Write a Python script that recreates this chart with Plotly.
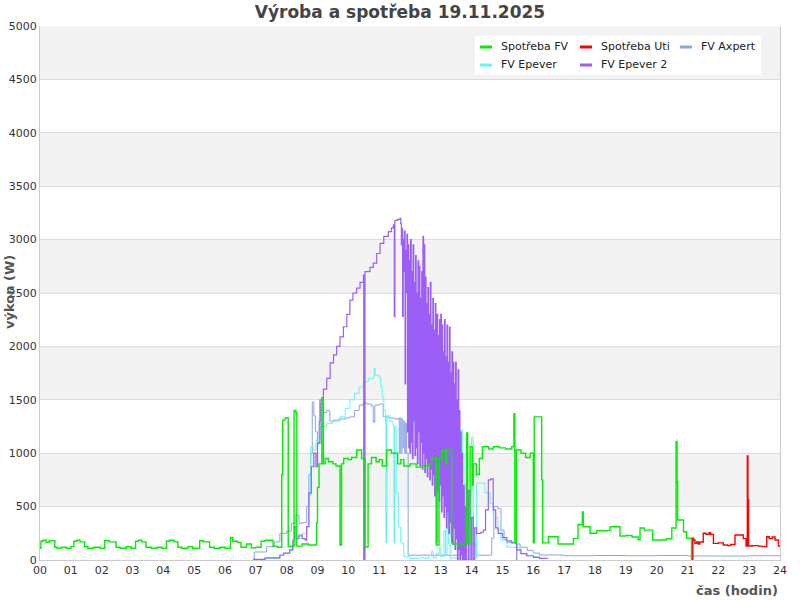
import plotly.graph_objects as go

# ---------------- data (hours, watts) ----------------
t_spotreba_fv = [0.0, 0.03, 0.1, 0.2, 0.3, 0.48, 0.55, 0.7, 0.85, 1.0, 1.1, 1.2, 1.3, 1.45, 1.55, 1.75, 1.95,
                 2.1, 2.25, 2.47, 2.6, 2.8, 2.95, 3.1, 3.2, 3.3, 3.44, 3.6, 3.8, 3.95, 4.1, 4.2, 4.35, 4.47,
                 4.6, 4.8, 4.95, 5.18, 5.3, 5.5, 5.65, 5.85, 6.0, 6.18, 6.25, 6.4, 6.52, 6.7, 6.85, 7.0, 7.17,
                 7.3, 7.56, 7.7, 7.84, 7.87, 7.95, 8.05, 8.15, 8.24, 8.3, 8.33, 8.5, 8.7, 8.97, 9.0, 9.05, 9.14,
                 9.19, 9.25, 9.35, 9.5, 9.6, 9.73, 9.78, 9.85, 10.0, 10.1, 10.27, 10.43, 10.54, 10.64, 10.75,
                 10.9, 11.0, 11.1, 11.24, 11.4, 11.6, 11.7, 11.8, 12.0, 12.2, 12.4, 12.6, 12.7, 12.85, 12.94,
                 13.05, 13.15, 13.2, 13.35, 13.4, 13.84, 13.87, 13.95, 14.02, 14.05, 14.15, 14.25, 14.35, 14.55,
                 14.7, 14.9, 15.1, 15.3, 15.37, 15.4, 15.45, 15.6, 15.75, 15.9, 16.0, 16.03, 16.27, 16.3, 16.49,
                 16.8, 17.3, 17.45, 17.59, 17.62, 17.84, 18.06, 18.49, 18.81, 19.0, 19.2, 19.4, 19.46, 19.6,
                 19.87, 20.32, 20.49, 20.63, 20.66, 20.68, 20.87, 20.97, 21.13]
v_spotreba_fv = [110, 175, 185, 165, 180, 120, 110, 120, 110, 125, 175, 185, 170, 125, 110, 120, 110,
                 180, 170, 120, 110, 125, 110, 175, 185, 170, 120, 110, 120, 110, 175, 185, 170, 120,
                 110, 125, 110, 180, 170, 120, 110, 120, 110, 210, 175, 165, 120, 150, 115, 120, 175,
                 185, 130, 120, 800, 1310, 1330, 125, 130, 1400, 1380, 130, 150, 140, 345, 680, 900, 1520,
                 900, 950, 920, 900, 880, 140, 900, 950, 940, 960, 1030, 950, 122, 900, 960,
                 920, 940, 880, 1030, 1000, 900, 940, 880, 900, 870, 880, 900, 950, 140, 950,
                 1030, 900, 1030, 160, 150, 1190, 160, 1060, 700, 900, 800, 950, 1060, 1040,
                 1060, 1050, 1040, 1060, 1370, 160, 1030, 1000, 960, 1000, 160, 1340, 750, 160, 218,
                 150, 200, 330, 450, 312, 250, 275, 312, 225, 230, 215, 190, 300, 280,
                 187, 200, 300, 1110, 733, 375, 265, 203, 0]

t_spotreba_uti = [21.15, 21.17, 21.2, 21.24, 21.3, 21.35, 21.4, 21.51, 21.6, 21.7, 21.75, 21.84, 22.0, 22.16,
                  22.3, 22.4, 22.54, 22.81, 22.9, 22.94, 22.96, 22.98, 23.1, 23.3, 23.41, 23.57, 23.65, 23.75,
                  23.84, 23.95, 24.0]
v_spotreba_uti = [0, 203, 187, 156, 170, 150, 168, 250, 240, 255, 240, 156, 160, 140,
                  135, 145, 234, 200, 130, 974, 562, 131, 135, 130, 125, 218, 200, 215,
                  187, 131, 131]

t_fv_axpert = [6.9, 6.95, 7.35, 7.6, 7.78, 8.0, 8.15, 8.3, 8.4, 8.49, 8.65, 8.72, 8.78, 8.83, 8.88, 8.93, 9.0,
               9.05, 9.1, 9.2, 9.3, 9.4, 9.51, 9.7, 9.9, 10.05, 10.2, 10.35, 10.48, 10.6, 10.75, 10.81, 10.86,
               11.0, 11.13, 11.3, 11.5, 11.62, 11.65, 11.68, 11.71, 11.74, 11.77, 11.8, 11.83, 11.86, 11.89,
               11.94, 13.64, 14.15, 14.65, 14.72, 14.85, 14.95, 15.05, 15.14, 15.45, 15.47, 15.57, 15.8, 16.0,
               16.2, 17.0, 18.0, 19.0, 20.0, 21.0, 22.0, 23.0, 24.0]
v_fv_axpert = [10, 75, 125, 170, 250, 270, 345, 420, 340, 350, 500, 800, 1000, 1480, 1350, 1200, 1100,
               1300, 1470, 1380, 1400, 1300, 1310, 1320, 1330, 1340, 1400, 1450, 1470, 1460, 1440, 1290, 1450,
               1460, 1340, 1330, 1320, 1330, 1000, 1330, 1000, 1320, 1050, 1300, 1000, 1280, 1000,
               45, 150, 45, 205, 500, 480, 280, 190, 165, 0, 150, 120, 90, 65,
               47, 40, 42, 40, 42, 38, 37, 40, 40]

t_fv_epever = [7.0, 7.3, 7.78, 7.9, 8.1, 8.2, 8.3, 8.5, 8.65, 8.72, 8.78, 8.86, 8.95, 9.08, 9.2, 9.3, 9.5, 9.73,
               9.9, 10.05, 10.2, 10.35, 10.49, 10.65, 10.81, 10.84, 10.87, 11.0, 11.05, 11.1, 11.15, 11.2, 11.22,
               11.24, 11.35, 11.45, 11.48, 11.5, 11.55, 11.62, 11.7, 11.8, 12.0, 12.3, 12.5, 12.6, 12.7, 12.75,
               12.85, 12.95, 13.0, 13.1, 13.15, 13.2, 13.25, 13.3, 13.62, 13.7, 13.75, 13.8, 13.85, 13.9, 13.95,
               14.0, 14.05, 14.16, 14.43, 14.6, 14.7, 14.85, 14.95, 15.14, 15.57, 15.8, 16.0, 16.15]
v_fv_epever = [5, 15, 40, 62, 100, 140, 218, 250, 312, 600, 1060, 1030, 1120, 1250, 1250, 1280, 1300, 1340,
               1420, 1500, 1560, 1620, 1670, 1700, 1720, 1795, 1730, 1710, 1620, 1530, 1400, 1300, 160,
               1350, 1300, 1250, 160, 1250, 630, 310, 160, 31, 15, 20, 15, 40, 80, 20,
               60, 120, 30, 280, 50, 452, 150, 20, 1217, 1000, 720, 500, 630, 310, 600,
               1150, 20, 720, 630, 530, 400, 280, 187, 120, 60, 40, 30, 18]

t_fv_epever2 = [6.92, 7.3, 7.78, 7.9, 8.1, 8.2, 8.25, 8.3, 8.4, 8.5, 8.6, 8.65, 8.72, 8.8, 8.88, 8.95, 9.0, 9.08,
                9.19, 9.3, 9.41, 9.52, 9.62, 9.73, 9.84, 9.95, 10.05, 10.15, 10.27, 10.38, 10.49, 10.5, 10.54,
                10.7, 10.81, 10.92, 11.03, 11.15, 11.3, 11.4, 11.46, 11.49, 11.51, 11.6, 11.68,
                11.70, 11.72, 11.74, 11.76, 11.78, 11.80, 11.82, 11.84, 11.86, 11.88, 11.90, 11.92, 11.94, 11.96,
                11.98, 12.00, 12.02, 12.04, 12.06, 12.08, 12.10, 12.12, 12.14, 12.16, 12.18, 12.20, 12.22, 12.24,
                12.26, 12.28, 12.30, 12.32, 12.34, 12.36, 12.38, 12.40, 12.42, 12.44, 12.46, 12.48, 12.50, 12.52,
                12.54, 12.56, 12.58, 12.60, 12.62, 12.64, 12.66, 12.68, 12.70, 12.72, 12.74, 12.76, 12.78, 12.80,
                12.82, 12.84, 12.86, 12.88, 12.90, 12.92, 12.94, 12.96, 12.98, 13.00, 13.02, 13.04, 13.06, 13.08,
                13.10, 13.12, 13.14, 13.16, 13.18, 13.20, 13.22, 13.24, 13.26, 13.28, 13.30, 13.32, 13.34, 13.36,
                13.38, 13.40, 13.42, 13.44, 13.46, 13.48, 13.50, 13.52, 13.54, 13.56, 13.58, 13.60, 13.62, 13.64,
                13.66, 13.68, 13.70, 13.73, 13.76, 13.80, 13.84, 13.90, 13.95, 14.00, 14.05, 14.10, 14.16, 14.30,
                14.38, 14.45, 14.54, 14.62, 14.70, 14.78, 14.86, 15.00, 15.14, 15.30, 15.46, 15.6, 15.78, 16.0,
                16.2, 16.45]
v_fv_epever2 = [5, 20, 47, 65, 94, 187, 312, 200, 234, 200, 187, 312, 627, 873, 1000, 873, 1092, 1500,
                1600, 1700, 1845, 1920, 2000, 2090, 2184, 2300, 2434, 2500, 2546, 2600, 2668, 0, 2700,
                2740, 2780, 2870, 2965, 3030, 3074, 3110, 3137, 2278, 3180, 3190, 3200,
                3150, 2950, 3100, 2280, 3000, 2700, 3080, 1650, 2900, 2500, 3050, 1200, 2950, 1050,
                2800, 1000, 3000, 1100, 2700, 950, 2950, 1300, 2600, 980, 2850, 1050, 2500, 900,
                2800, 1200, 2750, 880, 2450, 1100, 2700, 850, 3030, 1000, 2950, 820, 2650, 950,
                2400, 780, 2550, 900, 2300, 750, 2600, 850, 2200, 700, 2450, 800, 2150, 600,
                2400, 750, 160, 2300, 650, 2100, 550, 2250, 700, 2300, 450, 2200, 600, 1950,
                400, 2250, 500, 1900, 300, 2200, 450, 1850, 250, 2180, 350, 1750, 200, 1950,
                150, 1850, 300, 1650, 100, 1850, 200, 1500, 0, 1780, 100, 1400, 0, 1200,
                50, 1000, 0, 700, 0, 500, 0, 650, 0, 400, 0, 300, 250, 260,
                280, 470, 750, 760, 470, 300, 250, 210, 180, 160, 94, 60, 40, 25,
                15, 10]

hour_ticks = list(range(0, 25))
hour_labels = ["%02d" % h for h in hour_ticks]
watt_ticks = list(range(0, 5001, 500))
watt_labels = [str(w) for w in watt_ticks]

series_names = ["Spotřeba FV", "Spotřeba Uti", "FV Axpert", "FV Epever", "FV Epever 2"]
series_t = [t_spotreba_fv, t_spotreba_uti, t_fv_axpert, t_fv_epever, t_fv_epever2]
series_v = [v_spotreba_fv, v_spotreba_uti, v_fv_axpert, v_fv_epever, v_fv_epever2]
series_colors = ["#00ee00", "#ff0000", "#88a6e6", "#5ff7ee", "#9b5ff7"]
series_widths = [1.4, 1.4, 1.0, 1.0, 1.2]

FONT = "DejaVu Sans"
fig = go.Figure()

draw_order = [2, 3, 4, 0, 1]
for i in draw_order:
    fig.add_trace(go.Scatter(x=series_t[i], y=series_v[i], mode="lines",
                             line=dict(color=series_colors[i], width=series_widths[i], shape="hv", simplify=False),
                             name=series_names[i], showlegend=False, hoverinfo="skip"))

# ---- layout helpers (pixel -> paper) ----
L, R, T, B = 40, 20, 26, 40
PW, PH = 800 - L - R, 600 - T - B
def px(x):
    return (x - L) / PW
def py(y):
    return (600 - B - y) / PH

shapes = []
for k, y0 in enumerate(watt_ticks[:-1]):
    if k % 2 == 1:
        shapes.append(dict(type="rect", xref="paper", yref="y", x0=0, x1=1, y0=y0, y1=y0 + 500,
                           fillcolor="#f3f3f3", line=dict(width=0), layer="below"))

# legend box (manual, 3 columns)
shapes.append(dict(type="rect", xref="paper", yref="paper", x0=px(475), x1=px(761), y0=py(75), y1=py(36),
                   fillcolor="#ffffff", line=dict(width=0), layer="above"))
legend_slots = [(480, 47), (580, 47), (680, 47), (480, 65), (580, 65)]
annotations = []
for i, (sx, sy) in enumerate(legend_slots):
    shapes.append(dict(type="line", xref="paper", yref="paper", x0=px(sx), x1=px(sx + 12), y0=py(sy), y1=py(sy),
                       line=dict(color=series_colors[i], width=3), layer="above"))
    annotations.append(dict(text=series_names[i], xref="paper", yref="paper", x=px(sx + 19), y=py(sy),
                            xanchor="left", yanchor="middle", showarrow=False,
                            font=dict(family=FONT, size=11, color="#222")))

annotations += [
    dict(text="<b>čas (hodin)</b>", xref="paper", yref="paper", x=1.0, y=py(590),
         xanchor="right", yanchor="middle", showarrow=False,
         font=dict(family=FONT, size=13, color="#555")),
    dict(text="<b>výkon (W)</b>", xref="paper", yref="paper", x=px(9), y=py(292),
         xanchor="center", yanchor="middle", textangle=-90, showarrow=False,
         font=dict(family=FONT, size=13, color="#555")),
]

fig.update_layout(
    width=800, height=600,
    margin=dict(l=L, r=R, t=T, b=B),
    paper_bgcolor="white", plot_bgcolor="white",
    font=dict(family=FONT, size=11, color="#333"),
    showlegend=False,
    hovermode=False,
    title=dict(text="<b>Výroba a spotřeba 19.11.2025</b>", x=0.5, xanchor="center",
               y=1 - 12 / 600, yanchor="middle", yref="container",
               font=dict(family=FONT, size=17, color="#444")),
    xaxis=dict(range=[0, 24], tickmode="array", tickvals=hour_ticks, ticktext=hour_labels,
               showgrid=False, zeroline=False, showline=True, linecolor="#cccccc", linewidth=1,
               ticks="", automargin=False, tickfont=dict(family=FONT, size=11, color="#333")),
    yaxis=dict(range=[0, 5000], tickmode="array", tickvals=watt_ticks, ticktext=watt_labels,
               showgrid=True, gridcolor="#dddddd", gridwidth=1, zeroline=False,
               showline=True, linecolor="#cccccc", linewidth=1, mirror=True,
               ticks="", automargin=False, tickfont=dict(family=FONT, size=11, color="#333")),
    shapes=shapes,
    annotations=annotations,
)

fig.write_html("out.html", config={"displayModeBar": False, "staticPlot": True},
               post_script="document.body.style.margin='0';document.body.style.overflow='hidden';")
